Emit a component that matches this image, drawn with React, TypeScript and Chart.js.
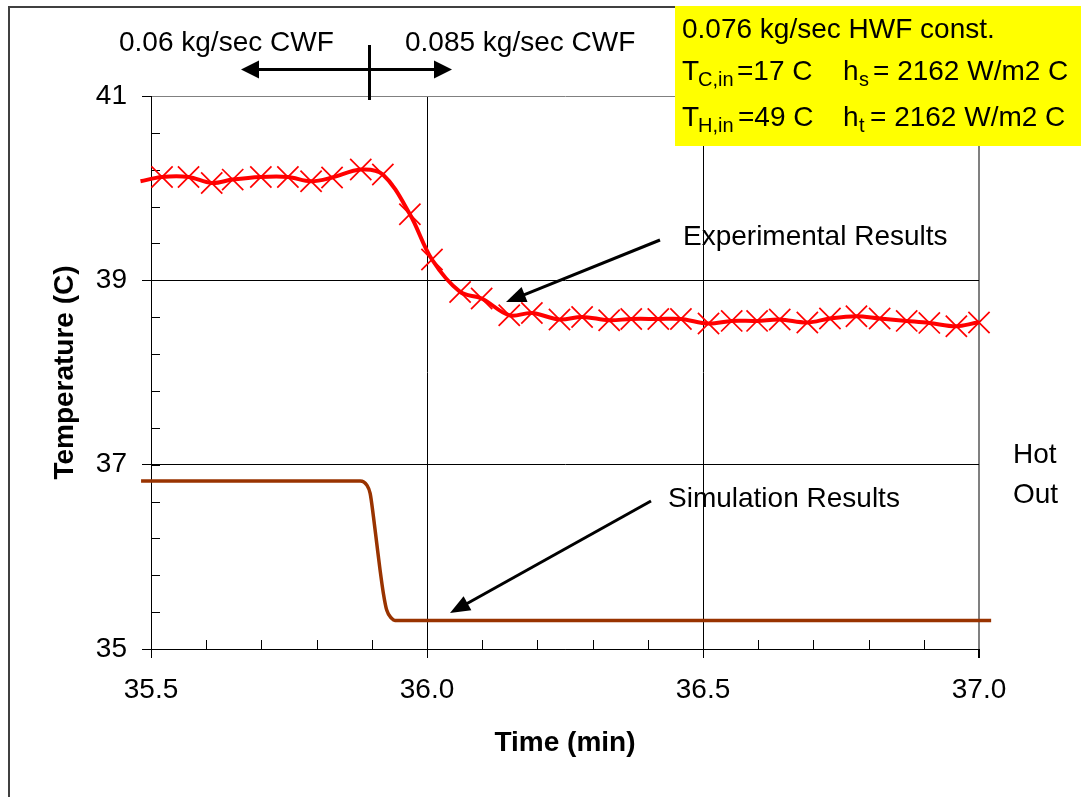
import React, { useEffect, useRef } from "react";
import { Chart, registerables } from "chart.js";
Chart.register(...registerables);

const FONT = "'Liberation Sans', Arial, sans-serif";

// Experimental results (time in min, temperature in C)
const expTime = [35.481, 35.520, 35.568, 35.610, 35.648, 35.699, 35.748, 35.790, 35.828, 35.880, 35.920, 35.969, 36.009, 36.060, 36.099, 36.149, 36.190, 36.240, 36.281, 36.330, 36.370, 36.419, 36.460, 36.510, 36.552, 36.598, 36.639, 36.689, 36.730, 36.778, 36.820, 36.869, 36.910, 36.959, 37.000, 37.022];
const expTemp = [40.075, 40.121, 40.121, 40.056, 40.093, 40.121, 40.121, 40.075, 40.115, 40.202, 40.148, 39.717, 39.226, 38.874, 38.803, 38.621, 38.646, 38.575, 38.603, 38.567, 38.581, 38.581, 38.581, 38.531, 38.560, 38.560, 38.575, 38.542, 38.586, 38.611, 38.586, 38.560, 38.538, 38.502, 38.542, 38.531];

// Simulation results
const simTime = [35.482, 35.879, 35.891, 35.897, 35.903, 35.909, 35.915, 35.921, 35.927, 35.936, 35.942, 37.022];
const simTemp = [36.824, 36.824, 36.778, 36.688, 36.434, 36.145, 35.856, 35.603, 35.422, 35.332, 35.310, 35.310];

// Axes
const xMin = 35.5, xMax = 37.0, xMajor = 0.5, xMinor = 0.1;
const yMin = 35, yMax = 41, yMajor = 2, yMinor = 0.4;

const xTitle = "Time (min)";
const yTitle = "Temperature (C)";
const leftNote = "0.06 kg/sec CWF";
const rightNote = "0.085 kg/sec CWF";
const boxLine1 = "0.076 kg/sec HWF const.";
const expLabel = "Experimental Results";
const simLabel = "Simulation Results";
const sideLabel = ["Hot", "Out"];

function arrowHead(ctx: CanvasRenderingContext2D, fx: number, fy: number, tx: number, ty: number, len: number, half: number) {
  const a = Math.atan2(ty - fy, tx - fx);
  const bx = tx - Math.cos(a) * len;
  const by = ty - Math.sin(a) * len;
  ctx.beginPath();
  ctx.moveTo(tx, ty);
  ctx.lineTo(bx + Math.sin(a) * half, by - Math.cos(a) * half);
  ctx.lineTo(bx - Math.sin(a) * half, by + Math.cos(a) * half);
  ctx.closePath();
  ctx.fill();
}

function arrow(ctx: CanvasRenderingContext2D, fx: number, fy: number, tx: number, ty: number) {
  const a = Math.atan2(ty - fy, tx - fx);
  ctx.beginPath();
  ctx.moveTo(fx, fy);
  ctx.lineTo(tx - Math.cos(a) * 16, ty - Math.sin(a) * 16);
  ctx.stroke();
  arrowHead(ctx, fx, fy, tx, ty, 20, 8);
}

const overlay = {
  id: "overlay",
  beforeDatasetsDraw(chart: any) {
    const { ctx, chartArea, scales } = chart;
    const xs = scales.x, ys = scales.y;
    ctx.save();
    ctx.strokeStyle = "#000";
    ctx.lineWidth = 1;
    const nx = Math.round((xMax - xMin) / xMinor);
    for (let i = 1; i < nx; i++) {
      if (i % Math.round(xMajor / xMinor) === 0) continue;
      const px = Math.round(xs.getPixelForValue(xMin + i * xMinor)) + 0.5;
      ctx.beginPath();
      ctx.moveTo(px, chartArea.bottom);
      ctx.lineTo(px, chartArea.bottom - 9);
      ctx.stroke();
    }
    const ny = Math.round((yMax - yMin) / yMinor);
    for (let i = 1; i < ny; i++) {
      const v = yMin + i * yMinor;
      if (Math.abs(v / yMajor - Math.round(v / yMajor)) < 1e-6) continue;
      const py = Math.round(ys.getPixelForValue(v)) + 0.5;
      ctx.beginPath();
      ctx.moveTo(chartArea.left, py);
      ctx.lineTo(chartArea.left + 9, py);
      ctx.stroke();
    }
    ctx.restore();
  },
  afterDraw(chart: any) {
    const { ctx } = chart;
    ctx.save();
    // outer frame
    ctx.strokeStyle = "#404040";
    ctx.lineWidth = 2;
    ctx.strokeRect(9, 7, 1100, 820);

    ctx.fillStyle = "#000";
    ctx.strokeStyle = "#000";
    ctx.textBaseline = "alphabetic";
    ctx.textAlign = "left";
    ctx.font = `28px ${FONT}`;
    ctx.fillText(leftNote, 119, 51);
    ctx.fillText(rightNote, 405, 51);

    // double arrow with divider
    ctx.lineWidth = 3;
    ctx.beginPath();
    ctx.moveTo(256, 69.5);
    ctx.lineTo(436, 69.5);
    ctx.stroke();
    arrowHead(ctx, 300, 69.5, 241, 69.5, 18, 9);
    arrowHead(ctx, 300, 69.5, 452, 69.5, 18, 9);
    ctx.beginPath();
    ctx.moveTo(369.5, 45);
    ctx.lineTo(369.5, 100);
    ctx.stroke();

    // labels with arrows
    ctx.fillText(expLabel, 683, 245);
    arrow(ctx, 660, 240, 506, 302);
    ctx.fillText(simLabel, 668, 507);
    arrow(ctx, 651, 501, 450, 613);

    ctx.fillText(sideLabel[0], 1013, 463);
    ctx.fillText(sideLabel[1], 1013, 503);

    // yellow box
    ctx.fillStyle = "#FFFF00";
    ctx.fillRect(675, 6, 406, 140);
    ctx.fillStyle = "#000";
    ctx.font = `28px ${FONT}`;
    ctx.fillText(boxLine1, 682, 38);
    // line 2
    ctx.fillText("T", 682, 80);
    ctx.font = `20px ${FONT}`;
    ctx.fillText("C,in", 698, 86);
    ctx.font = `28px ${FONT}`;
    ctx.fillText("=17 C", 737, 80);
    ctx.fillText("h", 843, 80);
    ctx.font = `20px ${FONT}`;
    ctx.fillText("s", 859, 86);
    ctx.font = `28px ${FONT}`;
    ctx.fillText("= 2162 W/m2 C", 873, 80);
    // line 3
    ctx.fillText("T", 682, 126);
    ctx.font = `20px ${FONT}`;
    ctx.fillText("H,in", 698, 132);
    ctx.font = `28px ${FONT}`;
    ctx.fillText("=49 C", 738, 126);
    ctx.fillText("h", 843, 126);
    ctx.font = `20px ${FONT}`;
    ctx.fillText("t", 859, 132);
    ctx.font = `28px ${FONT}`;
    ctx.fillText("= 2162 W/m2 C", 870, 126);
    ctx.restore();
  },
};

export default function App() {
  const ref = useRef<HTMLCanvasElement>(null);
  useEffect(() => {
    if (!ref.current) return;
    const chart = new Chart(ref.current, {
      type: "line",
      data: {
        datasets: [
          {
            label: "Simulation",
            data: simTime.map((t, i) => ({ x: t, y: simTemp[i] })),
            borderColor: "#993300",
            borderWidth: 3.5,
            pointRadius: 0,
            cubicInterpolationMode: "monotone",
            clip: false as any,
          },
          {
            label: "Experimental",
            data: expTime.map((t, i) => ({ x: t, y: expTemp[i] })),
            borderColor: "#FF0000",
            borderWidth: 4,
            tension: 0.35,
            pointStyle: "crossRot",
            pointRadius: (c: any) => {
              const v = c.raw ? c.raw.x : 0;
              return v < xMin - 1e-6 || v > xMax + 1e-6 ? 0 : 15;
            },
            pointBorderColor: "#FF0000",
            pointBorderWidth: 1.7,
            clip: false as any,
          },
        ],
      },
      options: {
        animation: false,
        responsive: false,
        devicePixelRatio: 1,
        layout: { padding: { left: 0, top: 96, right: 102, bottom: 0 } },
        plugins: { legend: { display: false }, tooltip: { enabled: false } },
        scales: {
          x: {
            type: "linear",
            min: xMin,
            max: xMax,
            afterFit: (s: any) => { s.height = 148; },
            ticks: {
              stepSize: xMajor,
              maxRotation: 0,
              autoSkip: false,
              padding: 15,
              color: "#000",
              font: { family: FONT, size: 28 },
              callback: (v: any) => Number(v).toFixed(1),
            },
            grid: {
              color: (c: any) => (c.tick && Math.abs(c.tick.value - xMax) < 1e-6 ? "#808080" : "#000"),
              lineWidth: (c: any) => (c.tick && Math.abs(c.tick.value - xMax) < 1e-6 ? 2 : 1),
              tickLength: 9,
              tickColor: "#000",
            },
            border: { color: "#000", width: 1 },
            title: {
              display: true,
              text: xTitle,
              color: "#000",
              font: { family: FONT, size: 28, weight: "bold" },
              padding: { top: 0, bottom: 37 },
            },
          },
          y: {
            type: "linear",
            min: yMin,
            max: yMax,
            afterFit: (s: any) => { s.width = 151; },
            ticks: {
              stepSize: yMajor,
              padding: 15,
              color: "#000",
              font: { family: FONT, size: 28 },
            },
            grid: {
              color: (c: any) => (c.tick && Math.abs(c.tick.value - yMax) < 1e-6 ? "#808080" : "#000"),
              tickLength: 9,
              tickColor: "#000",
            },
            border: { color: "#000", width: 1 },
            title: {
              display: true,
              text: yTitle,
              color: "#000",
              font: { family: FONT, size: 28, weight: "bold" },
              padding: { top: 48, bottom: 0 },
            },
          },
        },
      },
      plugins: [overlay],
    });
    return () => chart.destroy();
  }, []);
  return (
    <div style={{ position: "absolute", left: 0, top: 0, width: 1081, height: 797, background: "#fff" }}>
      <canvas ref={ref} width={1081} height={797} style={{ display: "block" }} />
    </div>
  );
}
